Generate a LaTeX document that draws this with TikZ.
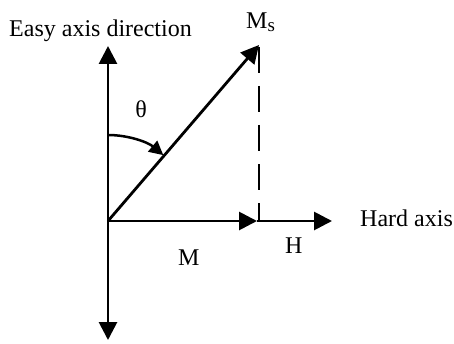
\documentclass[tikz,border=0pt]{standalone}
\usepackage{fontspec}
\setmainfont{Liberation Serif}
\usepackage{xcolor}
\usetikzlibrary{arrows.meta,positioning}

\begin{document}
\begin{tikzpicture}[x=1pt,y=1pt,
  vec/.style={line width=2.8pt,-{Triangle[length=18pt,width=18pt]}},
  lbl/.style={font=\fontsize{24}{26}\selectfont,inner sep=0pt}]
  \useasboundingbox (0,0) rectangle (454,343);
  \coordinate (O) at (108,122);
  \coordinate (up) at (108,297);
  \coordinate (down) at (108,3);
  \coordinate (ms) at (259,298);
  \coordinate (mend) at (257,122);
  \coordinate (hend) at (332,122);
  \coordinate (top) at (259,296);
  \coordinate (foot) at (259,122);
  \draw[vec] (O)--(up);
  \draw[vec] (O)--(down);
  \draw[vec] (O)--(ms);
  \draw[vec] (O)--(mend);
  \draw[vec] (mend)--(hend);
  \draw[line width=2.8pt,dash pattern=on 26pt off 13pt] (top)--(foot);
  \draw[line width=2.5pt,-{Triangle[length=14pt,width=14pt]}]
    ([yshift=86pt]O) arc[start angle=90,end angle=50,radius=86];
  \node[lbl,anchor=base west] (easy) at (9,306) {Easy axis direction};
  \node[lbl,anchor=base west] (msl) at (246,314) {M\raisebox{-3pt}{\fontsize{19}{20}\selectfont s}};
  \node[lbl] (theta) at (141,234) {θ};
  \node[lbl,anchor=base west] (mlbl) at (178,78) {M};
  \node[lbl,anchor=base west] (hlbl) at (285,90) {H};
  \node[lbl,anchor=base west] (hard) at (360,117) {Hard axis};
\end{tikzpicture}
\end{document}
